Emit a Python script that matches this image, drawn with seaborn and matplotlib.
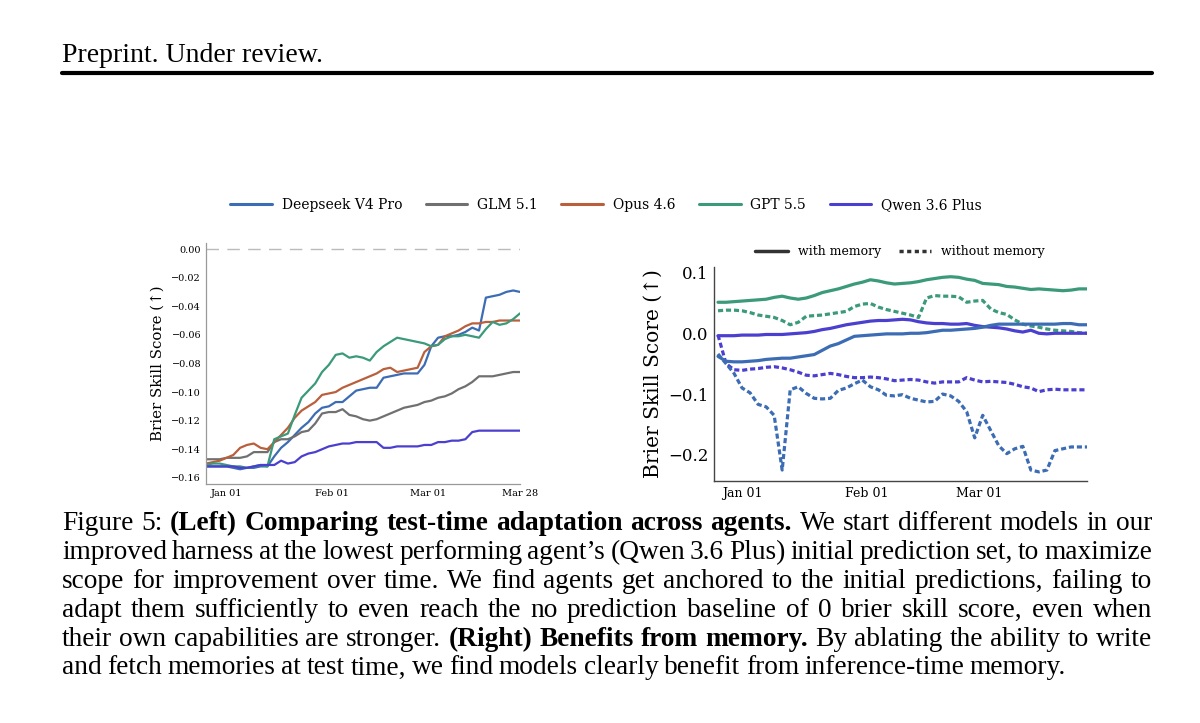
import matplotlib
matplotlib.use("Agg")
import numpy as np
import pandas as pd
import seaborn as sns
import matplotlib.pyplot as plt
import matplotlib.dates as mdates
from matplotlib.lines import Line2D
from matplotlib.ticker import FuncFormatter

# ---- data (every 2 days from Dec 26 to Mar 28) ----
DATES = pd.date_range("2025-12-26", periods=47, freq="2D")

MODELS = ["Deepseek V4 Pro", "GLM 5.1", "Opus 4.6", "GPT 5.5", "Qwen 3.6 Plus"]
COLORS = ["#3b6cb4", "#707070", "#b95f3c", "#3a9a7a", "#4b3fcf"]

LEFT_YTICKS = [-0.16, -0.14, -0.12, -0.10, -0.08, -0.06, -0.04, -0.02, 0.0]
RIGHT_YTICKS = [-0.2, -0.1, 0.0, 0.1]
LEFT_XTICKS = ["2026-01-01", "2026-02-01", "2026-03-01", "2026-03-28"]
RIGHT_XTICKS = ["2026-01-01", "2026-02-01", "2026-03-01"]

deepseek = [-0.152, -0.152, -0.152, -0.152, -0.153, -0.154, -0.153, -0.153, -0.152, -0.152,
            -0.145, -0.139, -0.135, -0.130, -0.125, -0.121, -0.115, -0.111, -0.110, -0.107,
            -0.107, -0.103, -0.099, -0.098, -0.097, -0.097, -0.090, -0.089, -0.088, -0.087,
            -0.087, -0.087, -0.081, -0.068, -0.062, -0.061, -0.061, -0.060, -0.058, -0.055,
            -0.057, -0.034, -0.033, -0.032, -0.030, -0.029, -0.030]
glm = [-0.147, -0.147, -0.147, -0.146, -0.146, -0.146, -0.145, -0.142, -0.142, -0.142,
       -0.135, -0.133, -0.133, -0.131, -0.128, -0.127, -0.122, -0.115, -0.114, -0.114,
       -0.112, -0.116, -0.117, -0.119, -0.120, -0.119, -0.117, -0.115, -0.113, -0.111,
       -0.110, -0.109, -0.107, -0.106, -0.104, -0.103, -0.101, -0.098, -0.096, -0.093,
       -0.089, -0.089, -0.089, -0.088, -0.087, -0.086, -0.086]
opus = [-0.150, -0.149, -0.148, -0.146, -0.144, -0.139, -0.137, -0.136, -0.139, -0.140,
        -0.135, -0.130, -0.125, -0.118, -0.113, -0.110, -0.107, -0.102, -0.101, -0.100,
        -0.097, -0.095, -0.093, -0.091, -0.089, -0.087, -0.084, -0.083, -0.086, -0.085,
        -0.084, -0.083, -0.072, -0.068, -0.067, -0.061, -0.059, -0.057, -0.054, -0.052,
        -0.052, -0.051, -0.051, -0.050, -0.050, -0.050, -0.050]
gpt = [-0.151, -0.150, -0.150, -0.151, -0.152, -0.152, -0.153, -0.152, -0.151, -0.152,
       -0.133, -0.131, -0.129, -0.116, -0.104, -0.099, -0.094, -0.086, -0.081, -0.074,
       -0.073, -0.076, -0.075, -0.076, -0.078, -0.072, -0.068, -0.065, -0.062, -0.063,
       -0.064, -0.065, -0.066, -0.068, -0.067, -0.063, -0.061, -0.061, -0.060, -0.061,
       -0.062, -0.056, -0.051, -0.053, -0.052, -0.049, -0.045]
qwen = [-0.152, -0.152, -0.152, -0.152, -0.152, -0.153, -0.153, -0.152, -0.151, -0.151,
        -0.151, -0.148, -0.150, -0.149, -0.145, -0.143, -0.142, -0.140, -0.138, -0.137,
        -0.136, -0.136, -0.135, -0.135, -0.135, -0.135, -0.139, -0.139, -0.138, -0.138,
        -0.138, -0.138, -0.137, -0.137, -0.135, -0.135, -0.134, -0.134, -0.133, -0.128,
        -0.127, -0.127, -0.127, -0.127, -0.127, -0.127, -0.127]

# right panel: with / without memory
gpt_mem = [0.051, 0.051, 0.052, 0.053, 0.054, 0.055, 0.056, 0.059, 0.061, 0.058,
           0.056, 0.058, 0.062, 0.067, 0.070, 0.073, 0.077, 0.081, 0.084, 0.088,
           0.086, 0.083, 0.081, 0.082, 0.083, 0.085, 0.088, 0.090, 0.092, 0.093,
           0.092, 0.089, 0.087, 0.082, 0.081, 0.080, 0.077, 0.076, 0.074, 0.072,
           0.073, 0.072, 0.071, 0.070, 0.071, 0.073, 0.073]
gpt_nomem = [0.037, 0.038, 0.038, 0.037, 0.034, 0.030, 0.028, 0.026, 0.021, 0.014,
             0.018, 0.028, 0.029, 0.030, 0.032, 0.034, 0.036, 0.044, 0.048, 0.049,
             0.043, 0.039, 0.036, 0.033, 0.030, 0.026, 0.058, 0.062, 0.061, 0.061,
             0.060, 0.051, 0.053, 0.054, 0.040, 0.034, 0.031, 0.022, 0.015, 0.012,
             0.010, 0.007, 0.005, 0.004, 0.003, 0.001, 0.000]
qwen_mem = [-0.004, -0.004, -0.004, -0.003, -0.003, -0.003, -0.002, -0.002, -0.002, -0.001,
            0.000, 0.001, 0.003, 0.006, 0.008, 0.011, 0.014, 0.016, 0.018, 0.020,
            0.021, 0.021, 0.022, 0.023, 0.022, 0.019, 0.017, 0.016, 0.016, 0.015,
            0.015, 0.016, 0.013, 0.011, 0.010, 0.009, 0.007, 0.004, 0.002, 0.005,
            0.000, -0.001, 0.000, 0.000, 0.000, 0.000, 0.000]
qwen_nomem = [-0.003, -0.050, -0.060, -0.061, -0.059, -0.058, -0.056, -0.055, -0.057, -0.060,
              -0.064, -0.069, -0.070, -0.068, -0.066, -0.068, -0.071, -0.073, -0.073, -0.072,
              -0.073, -0.075, -0.078, -0.077, -0.076, -0.077, -0.080, -0.082, -0.080, -0.080,
              -0.080, -0.073, -0.077, -0.080, -0.079, -0.080, -0.081, -0.084, -0.088, -0.090,
              -0.096, -0.093, -0.092, -0.093, -0.093, -0.093, -0.093]
deepseek_mem = [-0.038, -0.046, -0.047, -0.047, -0.046, -0.045, -0.043, -0.042, -0.041, -0.041,
                -0.039, -0.037, -0.035, -0.028, -0.021, -0.017, -0.011, -0.005, -0.004, -0.003,
                -0.002, -0.001, -0.001, -0.001, 0.000, 0.000, 0.001, 0.003, 0.005, 0.005,
                0.006, 0.007, 0.008, 0.010, 0.013, 0.015, 0.015, 0.015, 0.015, 0.015,
                0.015, 0.015, 0.015, 0.016, 0.016, 0.014, 0.014]
deepseek_nomem = [-0.034, -0.050, -0.066, -0.090, -0.098, -0.117, -0.121, -0.135, -0.225, -0.093,
                  -0.088, -0.099, -0.107, -0.108, -0.107, -0.094, -0.090, -0.083, -0.077, -0.088,
                  -0.093, -0.102, -0.103, -0.101, -0.107, -0.110, -0.113, -0.112, -0.100, -0.103,
                  -0.112, -0.129, -0.172, -0.135, -0.160, -0.185, -0.198, -0.190, -0.186, -0.225,
                  -0.228, -0.225, -0.193, -0.190, -0.187, -0.187, -0.187]

CAPTION = [
    [("Figure 5:", False), ("(Left) Comparing test-time adaptation across agents.", True),
     ("We start different models in our", False)],
    [("improved harness at the lowest performing agent\u2019s (Qwen 3.6 Plus) initial prediction set, to maximize", False)],
    [("scope for improvement over time. We find agents get anchored to the initial predictions, failing to", False)],
    [("adapt them sufficiently to even reach the no prediction baseline of 0 brier skill score, even when", False)],
    [("their own capabilities are stronger.", False), ("(Right) Benefits from memory.", True),
     ("By ablating the ability to write", False)],
    [("and fetch memories at test time, we find models clearly benefit from inference-time memory.", False)],
]


def minus_fmt(decimals):
    def f(v, pos):
        s = f"{v:.{decimals}f}"
        if float(s) == 0:
            s = s.lstrip("-")
        return s.replace("-", "\u2212")
    return FuncFormatter(f)


def main():
    sns.set_theme(style="white")
    plt.rcParams["font.family"] = ["DejaVu Serif", "DejaVu Sans"]
    for key in ["text.color", "axes.labelcolor", "xtick.labelcolor", "ytick.labelcolor"]:
        plt.rcParams[key] = "black"

    W, H = 1200, 723
    fig = plt.figure(figsize=(W / 100, H / 100), dpi=100)
    fig.patch.set_facecolor("white")

    def fx(px):
        return px / W

    def fy(py):
        return 1 - py / H

    palette = dict(zip(MODELS, COLORS))

    # ---- left panel ----
    left = pd.DataFrame({
        "date": np.tile(DATES, 5),
        "score": deepseek + glm + opus + gpt + qwen,
        "model": np.repeat(MODELS, len(DATES)),
    })
    ax1 = fig.add_axes([fx(206), fy(484), fx(520 - 206), (484 - 243) / H])
    sns.lineplot(data=left, x="date", y="score", hue="model", hue_order=MODELS,
                 palette=palette, linewidth=1.6, ax=ax1)
    ax1.axhline(0.0, color="#bbbbbb", lw=1.0, dashes=(9, 6))
    ax1.set_xlim(DATES[0], DATES[-1])
    ax1.set_ylim(-0.1643, 0.0042)
    ax1.set_yticks(LEFT_YTICKS)
    ax1.yaxis.set_major_formatter(minus_fmt(2))
    ax1.set_xticks(pd.to_datetime(LEFT_XTICKS))
    ax1.xaxis.set_major_formatter(mdates.DateFormatter("%b %d"))
    ax1.tick_params(labelsize=7, length=2, width=0.6, pad=1.5, color="#888888")
    ax1.set_xlabel("")
    ax1.set_ylabel("Brier Skill Score (\u2191)", fontsize=10.8, labelpad=5)
    for s in ["top", "right"]:
        ax1.spines[s].set_visible(False)
    for s in ["left", "bottom"]:
        ax1.spines[s].set_color("#999999")
        ax1.spines[s].set_linewidth(0.9)
    handles, labels = ax1.get_legend_handles_labels()
    ax1.get_legend().remove()
    for h in handles:
        h.set_linewidth(2.2)
    fig.legend(handles, labels, loc="center", ncol=5, frameon=False,
               bbox_to_anchor=(fx(606), fy(205)), fontsize=10,
               handlelength=3.0, columnspacing=1.7, handletextpad=0.7)

    # ---- right panel ----
    right = pd.DataFrame({
        "date": np.tile(DATES, 6),
        "score": gpt_mem + gpt_nomem + qwen_mem + qwen_nomem + deepseek_mem + deepseek_nomem,
        "model": np.repeat(["GPT 5.5", "GPT 5.5", "Qwen 3.6 Plus", "Qwen 3.6 Plus",
                            "Deepseek V4 Pro", "Deepseek V4 Pro"], len(DATES)),
        "memory": np.repeat(["with memory", "without memory"] * 3, len(DATES)),
    })
    ax2 = fig.add_axes([fx(714), fy(481), fx(1087 - 714), (481 - 267) / H])
    sns.lineplot(data=right, x="date", y="score", hue="model", palette=palette,
                 style="memory", dashes={"with memory": "", "without memory": (1.6, 0.9)},
                 linewidth=2.3, legend=False, ax=ax2)
    ax2.set_xlim(pd.Timestamp("2025-12-25"), DATES[-1])
    ax2.set_ylim(-0.243, 0.109)
    ax2.set_yticks(RIGHT_YTICKS)
    ax2.yaxis.set_major_formatter(minus_fmt(1))
    ax2.set_xticks(pd.to_datetime(RIGHT_XTICKS))
    ax2.xaxis.set_major_formatter(mdates.DateFormatter("%b %d"))
    ax2.tick_params(axis="y", labelsize=12, length=2, pad=2)
    ax2.tick_params(axis="x", labelsize=9, length=2, pad=2)
    ax2.set_xlabel("")
    ax2.set_ylabel("Brier Skill Score (\u2191)", fontsize=14.5, labelpad=4)
    for s in ["top", "right"]:
        ax2.spines[s].set_visible(False)
    for s in ["left", "bottom"]:
        ax2.spines[s].set_color("#444444")
        ax2.spines[s].set_linewidth(1.0)
    mem_handles = [Line2D([], [], color="#333333", lw=2.5),
                   Line2D([], [], color="#333333", lw=2.5, dashes=(1.2, 1.0))]
    fig.legend(mem_handles, ["with memory", "without memory"], loc="center", ncol=2,
               frameon=False, bbox_to_anchor=(fx(900), fy(252)), fontsize=9,
               handlelength=2.6, columnspacing=1.4, handletextpad=0.8)

    # ---- page header ----
    fig.text(fx(62), fy(62), "Preprint. Under review.", family="Liberation Serif",
             fontsize=20, va="baseline", ha="left", color="black")
    fig.add_artist(Line2D([fx(62), fx(1152)], [fy(72.8), fy(72.8)], color="black", lw=3.0))

    # ---- caption, justified ----
    renderer = fig.canvas.get_renderer()
    x0, x1 = 62, 1152
    baselines = [530, 559, 588, 617, 645.5, 674.5]
    for li, (segments, base) in enumerate(zip(CAPTION, baselines)):
        words = []
        for seg, bold in segments:
            for w in seg.split(" "):
                words.append((w, bold))
        texts = []
        for w, bold in words:
            t = fig.text(0, fy(base), w, family="Liberation Serif", fontsize=19.7,
                         weight="bold" if bold else "normal", va="baseline", ha="left",
                         color="black")
            texts.append(t)
        widths = [t.get_window_extent(renderer).width for t in texts]
        if li < len(CAPTION) - 1:
            gap = (x1 - x0 - sum(widths)) / (len(words) - 1)
        else:
            gap = 5.6
        x = x0
        for t, w in zip(texts, widths):
            t.set_x(fx(x))
            x += w + gap

    fig.savefig("out.png", dpi=100, facecolor="white")


if __name__ == "__main__":
    main()
